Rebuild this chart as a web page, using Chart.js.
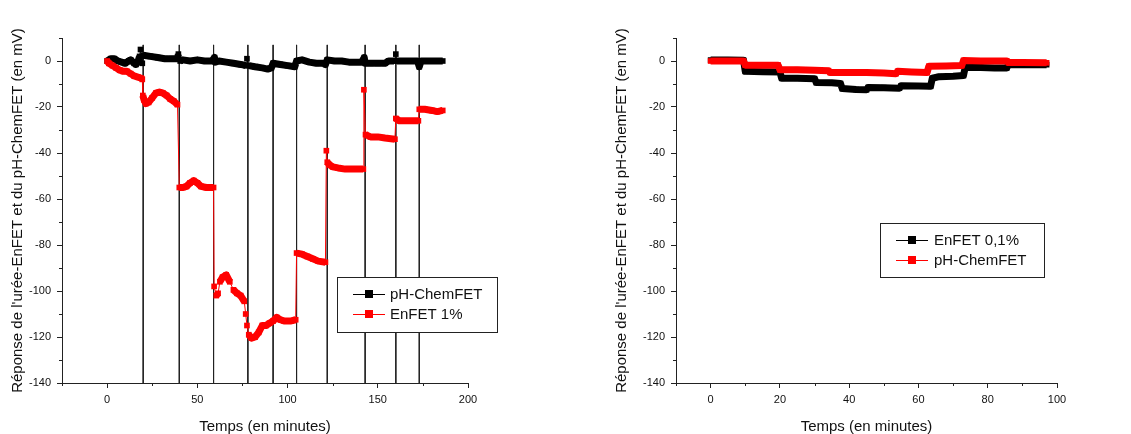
<!DOCTYPE html>
<html>
<head>
<meta charset="utf-8">
<script src="https://cdn.jsdelivr.net/npm/chart.js@4"></script>
<style>
  body { margin: 0; background: #fff; }
  canvas { position: absolute; top: 0; }
  #leftChart { left: 0; }
  #rightChart { left: 560px; }
</style>
</head>
<body>
<canvas id="leftChart" width="560" height="434"></canvas>
<canvas id="rightChart" width="571" height="434"></canvas>
<script>
// left panel: [minutes, mV]
const leftPhChemfet = [
  [0, 0], [2, 1], [4, 1], [6, 0], [8, -0.5], [10, -1], [12, 0], [13, 0.5], [15, -1], [16, -1.5],
  [17, -0.5], [18, 2], [18.5, 5], [19.5, -1], [20, 2.5], [24, 2], [28, 1.5], [32, 1], [36, 1],
  [39, 1], [39.5, 3], [40.5, 0], [42, 0.5], [46, 0], [50, 0.5], [54, 0], [58, 0], [59.5, 1.5],
  [60, -0.5], [62, 0], [66, -0.5], [70, -1], [74, -1.5], [77, -2], [77.5, 1], [78.5, -2],
  [82, -2.5], [86, -3], [89, -3.5], [91, -3], [92, -1], [96, -1.5], [100, -2], [104, -2.5],
  [105, 0], [108, 0.5], [112, -0.5], [116, -1], [120, -1], [121, -1.5], [122, 0.5], [126, 0],
  [130, 0], [134, -0.5], [138, -0.5], [141, -0.5], [142.5, 1.5], [143, -1], [146, -1], [150, -1],
  [154, -1], [156, 0], [159, 0], [160, 3], [160.5, 0], [164, 0], [168, 0], [172, 0], [173, -2.5],
  [174, 0], [178, 0], [182, 0], [186, 0]
];
const leftEnfet1 = [
  [0, 0], [1, -1], [3, -2], [5, -3], [7, -4], [9, -4.5], [11, -4.5], [13, -5.5], [15, -6.5],
  [17, -7], [19, -7.5], [19.5, -8],
  [19.8, -15], [20.5, -17], [21.5, -18.5], [23, -18], [25, -16], [27, -14], [29, -13.5], [31, -14],
  [33, -15], [35, -16.5], [37, -17.5], [39, -19],
  [40, -55], [42, -55], [44, -54.5], [46, -53], [48, -52], [50, -53], [52, -54.5], [55, -55], [59, -55],
  [59.3, -98], [60.5, -102], [61.5, -101], [62.5, -96], [64, -94], [66, -93], [68, -96], [70, -99.5],
  [72, -101], [74, -102], [76, -104.5],
  [76.8, -110], [77.5, -115], [78.5, -119], [80, -120.5], [82, -120], [84, -118], [86, -115],
  [88, -115], [90, -114], [92, -113], [94, -111.5], [96, -112.5], [98, -113], [100, -113],
  [102, -113], [104.5, -112.5],
  [105, -83.5], [108, -84], [111, -85], [114, -86], [117, -87], [121, -87.5],
  [121.5, -39], [122, -44], [123, -45], [125, -46], [128, -46.5], [132, -47], [136, -47],
  [140, -47], [142, -47],
  [142.3, -12.5], [143.2, -32], [146, -33], [150, -33], [154, -33.5], [159.5, -34],
  [160, -25], [162, -26], [166, -26], [170, -26], [172.5, -26],
  [173, -21], [176, -21], [180, -21.5], [183, -22], [186, -21.5]
];
const injectionTimes = [20, 40, 59, 78, 92, 105, 122, 143, 160, 173];

// right panel: [minutes, mV]
const rightEnfet01 = [
  [0, 0.4], [5, 0.4], [9.5, 0.3], [10, -4.5], [15, -4.7], [20, -4.8], [20.5, -7.5], [25, -7.5],
  [30, -7.7], [30.5, -9.4], [35, -9.5], [37.5, -9.8], [38, -12], [42, -12.4], [45, -12.5],
  [45.5, -11.5], [50, -11.6], [54.5, -11.8], [55, -10.8], [60, -10.9], [63.5, -11], [64, -7.5],
  [66, -6.8], [70, -6.6], [73, -6.3], [73.5, -2.7], [78, -2.8], [82, -3], [85.5, -3], [86, -1.6],
  [92, -1.6], [97, -1.6]
];
const rightPhChemfet = [
  [0, 0], [5, 0], [9.5, 0], [10, -1.8], [15, -1.8], [19.5, -1.8], [20, -3.8], [25, -3.8],
  [30, -4], [34, -4.2], [34.5, -5], [40, -5], [45, -5], [50, -5.2], [53.5, -5.5], [54, -4.5],
  [58, -4.8], [62.5, -5], [63, -2.3], [68, -2.2], [72.5, -2], [73, 0.2], [78, 0], [83, 0],
  [85.5, 0], [86, -0.7], [90, -0.7], [97, -0.8]
];

const FONT = '"Liberation Sans", Arial, sans-serif';
const yTitle = "Réponse de l'urée-EnFET et du pH-ChemFET (en mV)";
const xTitle = 'Temps (en minutes)';
const AXIS = '#222';

const toXY = arr => arr.map(p => ({ x: p[0], y: p[1] }));

function series(arr, color, thinJump) {
  return {
    data: toXY(arr),
    borderColor: color,
    backgroundColor: color,
    pointStyle: 'rect',
    pointRadius: 4,
    pointBorderWidth: 0,
    borderJoinStyle: 'round',
    segment: {
      borderWidth: ctx => Math.abs(ctx.p1.parsed.y - ctx.p0.parsed.y) > thinJump ? 1 : 7
    }
  };
}

function boxLegend(box, items) {
  return {
    id: 'boxLegend',
    afterDraw(chart) {
      const c = chart.ctx;
      c.save();
      c.fillStyle = '#fff';
      c.fillRect(box.x, box.y, box.w, box.h);
      c.strokeStyle = AXIS;
      c.lineWidth = 1;
      c.strokeRect(box.x + 0.5, box.y + 0.5, box.w, box.h);
      items.forEach((it, i) => {
        const y = box.y + box.first + i * box.gap;
        c.strokeStyle = it.color;
        c.lineWidth = 1;
        c.beginPath();
        c.moveTo(box.x + box.lineX, y + 0.5);
        c.lineTo(box.x + box.lineX + 32, y + 0.5);
        c.stroke();
        c.fillStyle = it.color;
        c.fillRect(box.x + box.lineX + 12, y - 4, 8, 8);
        c.fillStyle = '#111';
        c.font = '15px ' + FONT;
        c.textBaseline = 'middle';
        c.fillText(it.label, box.x + box.textX, y + 1);
      });
      c.restore();
    }
  };
}

// short outward ticks for unlabelled values
const minorTicks = {
  id: 'minorTicks',
  afterDraw(chart) {
    const c = chart.ctx;
    const xs = chart.scales.x, ys = chart.scales.y;
    c.save();
    c.strokeStyle = AXIS;
    c.lineWidth = 1;
    c.beginPath();
    xs.ticks.forEach(t => {
      if (t.label !== '') return;
      const px = Math.round(xs.getPixelForValue(t.value)) + 0.5;
      c.moveTo(px, xs.top);
      c.lineTo(px, xs.top + 3);
    });
    ys.ticks.forEach(t => {
      if (t.label !== '') return;
      const py = Math.round(ys.getPixelForValue(t.value)) + 0.5;
      c.moveTo(ys.right, py);
      c.lineTo(ys.right - 3, py);
    });
    c.stroke();
    c.restore();
  }
};

function axes(xMin, xMax, xStep, xMajor, yWidth) {
  const tickFont = { family: FONT, size: 11 };
  const tickColor = ctx => (ctx.tick && ctx.tick.label === '' ? 'rgba(0,0,0,0)' : AXIS);
  return {
    x: {
      type: 'linear', min: xMin, max: xMax,
      border: { color: AXIS, width: 1 },
      grid: { drawOnChartArea: false, tickLength: 5, color: AXIS, tickColor },
      ticks: {
        stepSize: xStep, autoSkip: false, maxRotation: 0, color: '#111', font: tickFont, padding: 5,
        callback: v => (v % xMajor === 0 ? v : '')
      },
      title: {
        display: true, text: xTitle, color: '#111',
        font: { family: FONT, size: 15, lineHeight: 0.9 }, padding: { top: 0, bottom: 0 }
      },
      afterFit: s => { s.height = 51; }
    },
    y: {
      min: -140, max: 10,
      border: { color: AXIS, width: 1 },
      grid: { drawOnChartArea: false, tickLength: 5, color: AXIS, tickColor },
      ticks: {
        stepSize: 10, autoSkip: false, color: '#111', font: tickFont, padding: 6,
        callback: v => (v % 20 === 0 ? v : '')
      },
      title: { display: true, text: yTitle, color: '#111', font: { family: FONT, size: 15 } },
      afterFit: s => { s.width = yWidth; }
    }
  };
}

const baseOptions = (padding, scales) => ({
  responsive: false,
  animation: false,
  devicePixelRatio: 1,
  layout: { padding },
  plugins: { legend: { display: false }, tooltip: { enabled: false } },
  scales
});

// vertical injection markers, broken with nulls between lines
const injectionLines = [];
injectionTimes.forEach(t => {
  injectionLines.push({ x: t, y: 7 }, { x: t, y: -140 }, { x: t, y: null });
});

new Chart(document.getElementById('leftChart'), {
  type: 'line',
  data: {
    datasets: [
      series(leftEnfet1, '#ff0000', 3),
      series(leftPhChemfet, '#000000', 2.5),
      {
        data: injectionLines,
        borderColor: AXIS,
        borderWidth: 1,
        pointRadius: 0,
        spanGaps: false
      }
    ]
  },
  options: baseOptions({ left: 5, right: 92, top: 38, bottom: 0 }, axes(-25, 200, 25, 50, 57)),
  plugins: [minorTicks, boxLegend({ x: 337, y: 277, w: 160, h: 55, first: 17, gap: 20, lineX: 16, textX: 53 }, [
    { label: 'pH-ChemFET', color: '#000' },
    { label: 'EnFET 1%', color: '#ff0000' }
  ])]
});

new Chart(document.getElementById('rightChart'), {
  type: 'line',
  data: {
    datasets: [
      series(rightPhChemfet, '#ff0000', 99),
      series(rightEnfet01, '#000000', 99)
    ]
  },
  options: baseOptions({ left: 49, right: 74, top: 38, bottom: 0 }, axes(-10, 100, 10, 20, 67)),
  plugins: [minorTicks, boxLegend({ x: 320, y: 223, w: 164, h: 54, first: 17, gap: 20, lineX: 16, textX: 54 }, [
    { label: 'EnFET 0,1%', color: '#000' },
    { label: 'pH-ChemFET', color: '#ff0000' }
  ])]
});
</script>
</body>
</html>
